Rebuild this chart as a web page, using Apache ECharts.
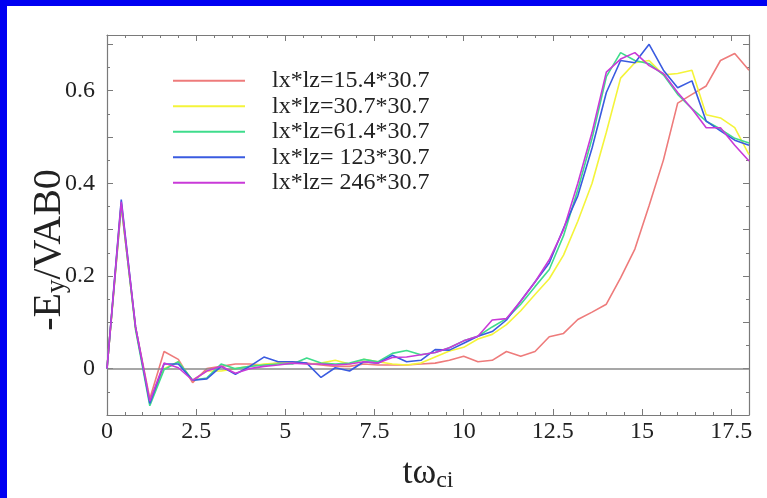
<!DOCTYPE html>
<html>
<head>
<meta charset="utf-8">
<script src="https://cdn.jsdelivr.net/npm/echarts@6/dist/echarts.min.js"></script>
<style>
html,body{margin:0;padding:0;background:#fff;overflow:hidden;}
#chart{position:absolute;left:0;top:0;width:767px;height:498px;}
/* blue slide frame, top and left only */
#frameTop{position:absolute;left:0;top:0;width:767px;height:6px;background:#0000f2;z-index:2;}
#frameLeft{position:absolute;left:0;top:0;width:7px;height:498px;background:#0000f2;z-index:2;}
</style>
</head>
<body>
<div id="chart"></div>
<div id="frameTop"></div>
<div id="frameLeft"></div>
<script>
//time axis (t*omega_ci)
var tData = [0, 0.4, 0.8, 1.2, 1.6, 2, 2.4, 2.8, 3.2, 3.6, 4, 4.4, 4.8, 5.2, 5.6, 6, 6.4, 6.8, 7.2, 7.6, 8, 8.4, 8.8, 9.2, 9.6,
	10, 10.4, 10.8, 11.2, 11.6, 12, 12.4, 12.8, 13.2, 13.6, 14, 14.4, 14.8, 15.2, 15.6, 16, 16.4, 16.8, 17.2, 17.6, 18];
//-Ey/VAB0 for each box size
var ey154 = [0, 0.35, 0.09, -0.065, 0.037, 0.02, -0.03, 0.0, 0.005, 0.01, 0.01, 0.008, 0.012, 0.015, 0.012, 0.008, 0.005, 0.005, 0.01, 0.008, 0.008, 0.008, 0.01, 0.012,
	0.018, 0.027, 0.015, 0.018, 0.037, 0.027, 0.037, 0.069, 0.076, 0.106, 0.122, 0.139, 0.196, 0.258, 0.352, 0.45, 0.573, 0.592, 0.61, 0.665, 0.68, 0.644];
var ey307 = [0, 0.355, 0.085, -0.07, 0.0, 0.015, -0.025, -0.005, -0.005, 0.0, 0.005, 0.01, 0.012, 0.015, 0.01, 0.012, 0.018, 0.01, 0.02, 0.015, 0.01, 0.008, 0.012, 0.025,
	0.038, 0.046, 0.064, 0.074, 0.095, 0.125, 0.16, 0.194, 0.245, 0.318, 0.40, 0.51, 0.627, 0.66, 0.665, 0.634, 0.637, 0.644, 0.548, 0.541, 0.52, 0.462];
var ey614 = [0, 0.355, 0.085, -0.08, -0.002, 0.015, -0.025, -0.02, 0.01, 0.0, 0.005, 0.008, 0.01, 0.01, 0.023, 0.012, 0.01, 0.012, 0.02, 0.015, 0.033, 0.039, 0.03, 0.035,
	0.045, 0.06, 0.07, 0.09, 0.108, 0.139, 0.177, 0.214, 0.287, 0.386, 0.497, 0.63, 0.682, 0.665, 0.658, 0.634, 0.592, 0.561, 0.534, 0.517, 0.497, 0.487];
var ey123 = [0, 0.365, 0.09, -0.075, 0.01, 0.01, -0.025, -0.022, 0.005, -0.012, 0.005, 0.025, 0.015, 0.015, 0.012, -0.019, 0.002, -0.005, 0.015, 0.012, 0.029, 0.015, 0.018, 0.041,
	0.04, 0.055, 0.07, 0.08, 0.105, 0.146, 0.187, 0.228, 0.303, 0.373, 0.476, 0.596, 0.665, 0.66, 0.70, 0.644, 0.606, 0.621, 0.534, 0.513, 0.493, 0.482];
var ey246 = [0, 0.36, 0.09, -0.07, 0.012, 0.002, -0.025, -0.005, 0.005, -0.01, 0.0, 0.005, 0.008, 0.012, 0.01, 0.01, 0.008, 0.01, 0.015, 0.012, 0.024, 0.025, 0.03, 0.035,
	0.045, 0.06, 0.07, 0.105, 0.108, 0.146, 0.187, 0.235, 0.30, 0.40, 0.51, 0.64, 0.668, 0.682, 0.654, 0.637, 0.596, 0.561, 0.52, 0.52, 0.482, 0.448];

var seriesNames = ['lx*lz=15.4*30.7', 'lx*lz=30.7*30.7', 'lx*lz=61.4*30.7', 'lx*lz= 123*30.7', 'lx*lz= 246*30.7'];
var seriesData = [ey154, ey307, ey614, ey123, ey246];
var seriesColors = ['#ee7b7b', '#f4f43a', '#3fdc8c', '#3a5be0', '#c93ad8'];

var serif = '"Liberation Serif", "DejaVu Serif", serif';
var axisGray = '#7a7a7a';

var mychart = echarts.init(document.getElementById('chart'));

//build line series from the arrays
var series = [];
for (var i = 0; i < seriesData.length; i++) {
	var pts = [];
	for (var j = 0; j < tData.length; j++) {
		pts.push([tData[j], seriesData[i][j]]);
	}
	series.push({
		name: seriesNames[i],
		type: 'line',
		data: pts,
		symbol: 'none',
		color: seriesColors[i],
		lineStyle: { width: 1.6 },
		emphasis: { disabled: true },
		z: 3 + i
	});
}
//zero line
series[0].markLine = {
	silent: true,
	symbol: 'none',
	label: { show: false },
	lineStyle: { color: '#8a8a8a', width: 1.5, type: 'solid' },
	data: [{ yAxis: 0 }]
};

//common tick settings, ticks point inward
function tickAxis(extra) {
	var ax = {
		axisLine: { show: true, onZero: false, lineStyle: { color: axisGray, width: 1.2 } },
		axisTick: { show: true, inside: true, length: 6, lineStyle: { color: axisGray } },
		minorTick: { show: true, length: 3, lineStyle: { color: axisGray } },
		splitLine: { show: false },
		minorSplitLine: { show: false }
	};
	for (var k in extra) {
		ax[k] = extra[k];
	}
	return ax;
}

var option = {
	animation: false,
	backgroundColor: '#fff',
	grid: { left: 107, right: 18, top: 35, bottom: 66 },
	legend: {
		orient: 'vertical',
		left: 173,
		top: 68,
		padding: 0,
		itemGap: 0,
		itemWidth: 72,
		itemHeight: 2,
		icon: 'rect',
		selectedMode: false,
		data: seriesNames,
		textStyle: { fontFamily: serif, fontSize: 24, color: '#222', lineHeight: 25.5, padding: [0, 0, 0, 22] }
	},
	xAxis: [
		tickAxis({
			type: 'value', min: 0, max: 18, interval: 2.5,
			minorTick: { show: true, splitNumber: 5, length: 3, lineStyle: { color: axisGray } },
			axisLabel: { fontFamily: serif, fontSize: 24, color: '#222', margin: 5, showMaxLabel: false },
			name: '{m|tω}{s|ci}',
			nameLocation: 'middle',
			nameGap: 40,
			nameTextStyle: {
				rich: {
					m: { fontFamily: serif, fontSize: 36, color: '#222' },
					s: { fontFamily: serif, fontSize: 24, color: '#222', padding: [14, 0, 0, 0] }
				}
			}
		}),
		tickAxis({
			type: 'value', min: 0, max: 18, interval: 2.5, position: 'top',
			minorTick: { show: true, splitNumber: 5, length: 3, lineStyle: { color: axisGray } },
			axisLabel: { show: false }
		})
	],
	yAxis: [
		tickAxis({
			type: 'value', min: -0.1, max: 0.72, interval: 0.1,
			minorTick: { show: true, splitNumber: 2, length: 3, lineStyle: { color: axisGray } },
			axisLabel: {
				fontFamily: serif, fontSize: 24, color: '#222', margin: 12,
				formatter: function (v) {
					var n = Math.round(v * 10);
					if (Math.abs(v * 10 - n) > 0.01 || n < 0 || n % 2 != 0) return '';
					return n == 0 ? '0' : (n / 10).toFixed(1);
				}
			},
			name: '{m|-E}{s|y}{m|/VAB0}',
			nameLocation: 'middle',
			nameGap: 37,
			nameMoveOverlap: false,
			nameTextStyle: {
				padding: [0, 50, 0, 0],
				rich: {
					m: { fontFamily: serif, fontSize: 40, color: '#222' },
					s: { fontFamily: serif, fontSize: 27, color: '#222', padding: [15, 0, 0, 0] }
				}
			}
		}),
		tickAxis({
			type: 'value', min: -0.1, max: 0.72, interval: 0.1, position: 'right',
			minorTick: { show: true, splitNumber: 2, length: 3, lineStyle: { color: axisGray } },
			axisLabel: { show: false }
		})
	],
	series: series
};
mychart.setOption(option);
</script>
</body>
</html>
